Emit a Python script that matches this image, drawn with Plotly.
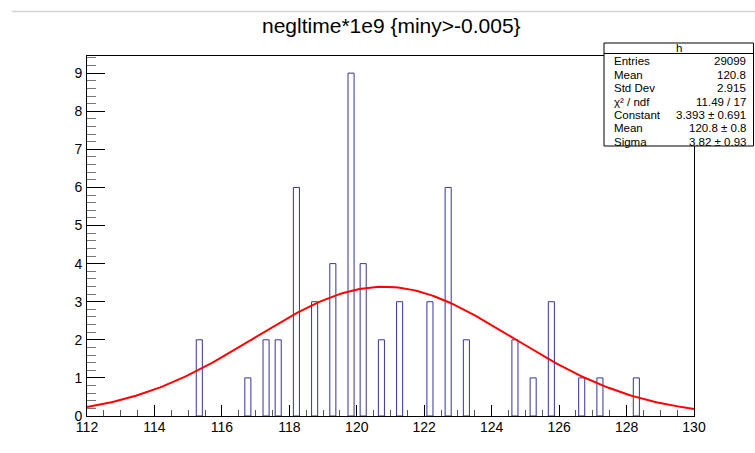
import numpy as np
import plotly.graph_objects as go

# Histogram: 100 bins of width 0.18 between 112 and 130; only filled bins listed
x_lo, x_hi, n_bins = 112.0, 130.0, 100
bin_left_edges = [115.24, 116.68, 117.22, 117.58, 118.12, 118.66, 119.20, 119.74,
                  120.10, 120.64, 121.18, 122.08, 122.62, 123.16, 124.60, 125.14,
                  125.68, 126.58, 127.12, 128.20]
counts = [2, 1, 2, 2, 6, 3, 4, 9, 4, 2, 3, 3, 6, 2, 2, 1, 3, 1, 1, 1]

# Gaussian fit parameters
fit_constant = 3.393
fit_mean = 120.8
fit_sigma = 3.82

# Statistics box rows
stat_labels = ["Entries", "Mean", "Std Dev", "χ² / ndf", "Constant", "Mean", "Sigma"]
stat_values = ["29099", "120.8", "2.915", "11.49 / 17", "3.393 ± 0.691", "120.8 ± 0.8", "3.82 ± 0.93"]

title_text = "negltime*1e9 {miny>-0.005}"

bin_width = (x_hi - x_lo) / n_bins
centers = [e + bin_width / 2 for e in bin_left_edges]

xf = np.linspace(x_lo, x_hi, 200)
yf = fit_constant * np.exp(-0.5 * ((xf - fit_mean) / fit_sigma) ** 2)

W, H = 755, 453
L, R, T, B = 87, 694, 56, 416
pw, ph = R - L, B - T


def px(x):
    return (x - L) / pw


def py(y):
    return (B - y) / ph


FONT = "Liberation Sans, Arial, Helvetica, sans-serif"

fig = go.Figure()
fig.add_trace(go.Bar(
    x=centers, y=counts, width=bin_width,
    marker=dict(color="rgba(0,0,0,0)", line=dict(color="#34349a", width=1)),
    hoverinfo="skip",
))
fig.add_trace(go.Scatter(
    x=xf, y=yf, mode="lines",
    line=dict(color="#ff0000", width=2),
    hoverinfo="skip",
))

fig.update_layout(
    width=W, height=H,
    margin=dict(l=L, r=W - R, t=T, b=H - B, pad=0),
    paper_bgcolor="white", plot_bgcolor="white",
    showlegend=False,
    font=dict(family=FONT, color="black"),
)
fig.update_xaxes(
    range=[x_lo, x_hi], dtick=2, tick0=112,
    ticks="inside", ticklen=11, tickcolor="black", tickwidth=1,
    minor=dict(dtick=0.5, ticks="inside", ticklen=6, tickcolor="#555"),
    showgrid=False, zeroline=False,
    showline=True, mirror=True, linecolor="black", linewidth=1,
    tickfont=dict(size=14, family=FONT), ticklabelstandoff=-2,
)
fig.update_yaxes(
    range=[0, 9.45], dtick=1, tick0=0,
    ticks="inside", ticklen=18, tickcolor="black", tickwidth=1,
    minor=dict(dtick=0.2, ticks="inside", ticklen=9, tickcolor="#777"),
    showgrid=False, zeroline=False,
    showline=True, mirror=True, linecolor="black", linewidth=1,
    tickfont=dict(size=14, family=FONT), ticklabelstandoff=1,
)

shapes = []
# thin rule across the top of the canvas
shapes.append(dict(type="line", xref="paper", yref="paper",
                   x0=px(12), x1=px(755), y0=py(11.5), y1=py(11.5),
                   line=dict(color="#d4d4d4", width=1.5)))
# statistics box
box_l, box_r, box_t, box_b = 604, 753.5, 43, 146
shapes.append(dict(type="rect", xref="paper", yref="paper",
                   x0=px(box_l), x1=px(box_r), y0=py(box_b), y1=py(box_t),
                   fillcolor="white", line=dict(color="black", width=1), layer="above"))
shapes.append(dict(type="line", xref="paper", yref="paper",
                   x0=px(box_l), x1=px(box_r), y0=py(53.5), y1=py(53.5),
                   line=dict(color="black", width=1), layer="above"))
fig.update_layout(shapes=shapes)

annotations = [dict(text=title_text, xref="paper", yref="paper",
                    x=px(391), y=py(25), xanchor="center", yanchor="middle",
                    showarrow=False, font=dict(size=21, family=FONT, color="black"))]
annotations.append(dict(text="h", xref="paper", yref="paper",
                        x=px((box_l + box_r) / 2), y=py(47.5), xanchor="center", yanchor="middle",
                        showarrow=False, font=dict(size=11.5, family=FONT, color="black")))
row_y = [61.0, 74.5, 88.0, 101.5, 115.0, 128.3, 141.5]
for lab, val, yy in zip(stat_labels, stat_values, row_y):
    annotations.append(dict(text=lab, xref="paper", yref="paper",
                            x=px(612), y=py(yy), xanchor="left", yanchor="middle",
                            showarrow=False, font=dict(size=11.5, family=FONT, color="black")))
    annotations.append(dict(text=val, xref="paper", yref="paper",
                            x=px(747.5), y=py(yy), xanchor="right", yanchor="middle",
                            showarrow=False, font=dict(size=11.5, family=FONT, color="black")))
fig.update_layout(annotations=annotations)

fig.write_html("out.html")
